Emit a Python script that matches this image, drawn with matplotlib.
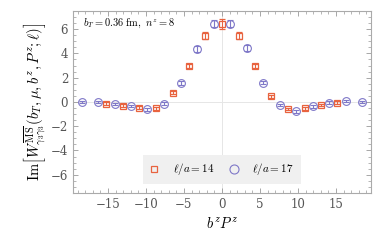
import numpy as np
import matplotlib
matplotlib.use('Agg')
import matplotlib.pyplot as plt
from matplotlib.ticker import MultipleLocator
from matplotlib.lines import Line2D

plt.rcParams['font.family'] = 'serif'
plt.rcParams['font.serif'] = ['DejaVu Serif']
plt.rcParams['mathtext.fontset'] = 'cm'

# l/a = 14 (squares)
x14 = [-15.2, -13.0, -10.9, -8.7, -6.5, -4.3, -2.2, 0.0, 2.2, 4.3, 6.5, 8.7, 10.9, 13.0, 15.2]
y14 = [-0.14, -0.30, -0.46, -0.52, 0.77, 2.95, 5.45, 6.45, 5.45, 2.95, 0.47, -0.58, -0.52, -0.26, -0.06]
e14 = [0.10, 0.10, 0.10, 0.12, 0.12, 0.18, 0.30, 0.40, 0.30, 0.18, 0.14, 0.12, 0.12, 0.10, 0.10]

# l/a = 17 (circles)
x17 = [-18.4, -16.3, -14.1, -12.0, -9.8, -7.6, -5.4, -3.3, -1.1, 1.1, 3.3, 5.4, 7.6, 9.8, 12.0, 14.1, 16.3, 18.4]
y17 = [-0.02, -0.04, -0.17, -0.34, -0.62, -0.15, 1.57, 4.38, 6.45, 6.45, 4.45, 1.60, -0.25, -0.77, -0.36, -0.05, 0.06, -0.02]
e17 = [0.08, 0.08, 0.10, 0.10, 0.12, 0.12, 0.15, 0.25, 0.30, 0.30, 0.25, 0.15, 0.12, 0.12, 0.10, 0.10, 0.08, 0.08]

c14 = '#E8633F'
c17 = '#7F78C8'

fig = plt.figure(figsize=(3.82, 2.43), dpi=100)
ax = fig.add_axes([0.191, 0.206, 0.78, 0.749])

ax.axhline(0, color='#e6e6e6', lw=0.7, zorder=0)
ax.axvline(0, color='#e6e6e6', lw=0.7, zorder=0)

ax.errorbar(x14, y14, yerr=e14, fmt='s', ms=4.3, mfc='none', mec=c14, mew=0.9,
            ecolor=c14, elinewidth=0.8, capsize=2.0, capthick=0.8)
ax.errorbar(x17, y17, yerr=e17, fmt='o', ms=5.6, mfc='none', mec=c17, mew=0.8,
            ecolor=c17, elinewidth=0.8, capsize=2.0, capthick=0.8)

ax.set_xlim(-19.6, 19.6)
ax.set_ylim(-7.5, 7.5)
ax.xaxis.set_major_locator(MultipleLocator(5))
ax.xaxis.set_minor_locator(MultipleLocator(1))
ax.yaxis.set_major_locator(MultipleLocator(2))
ax.yaxis.set_minor_locator(MultipleLocator(0.5))
ax.tick_params(which='both', direction='in', top=True, right=True, color='#999999',
               labelcolor='#555555', labelsize=8.5)
ax.tick_params(which='major', length=3.5, width=0.6)
ax.tick_params(which='minor', length=2, width=0.5)
ax.set_xticks([-15, -10, -5, 0, 5, 10, 15])
ax.set_yticks([-6, -4, -2, 0, 2, 4, 6])
for s in ax.spines.values():
    s.set_color('#aaaaaa')
    s.set_linewidth(0.8)

ax.text(0.035, 0.93, r'$b_T = 0.36\ \mathrm{fm},\ n^z = 8$', transform=ax.transAxes,
        fontsize=7.5, va='center', ha='left')

ax.set_xlabel(r'$b^z P^z$', fontsize=10.5, labelpad=4)
ax.set_ylabel(r'$\mathrm{Im}\left[W^{\overline{\rm MS}}_{\gamma_3\gamma_3}(b_T, \mu, b^z, P^z; \ell)\right]$',
              fontsize=10.5, labelpad=2)

handles = [Line2D([], [], ls='none', marker='s', ms=4.3, mfc='none', mec=c14, mew=0.9),
           Line2D([], [], ls='none', marker='o', ms=6.5, mfc='none', mec=c17, mew=0.8)]
leg = ax.legend(handles, [r'$\ell/a = 14$', r'$\ell/a = 17$'],
                loc='lower center', bbox_to_anchor=(0.5, 0.03), ncol=2, fontsize=8,
                frameon=True, fancybox=False, handlelength=0.8, handletextpad=1.3,
                columnspacing=1.3, borderpad=0.6, borderaxespad=0.3)
leg.get_frame().set_facecolor('#f0f0f0')
leg.get_frame().set_edgecolor('none')
leg.get_frame().set_alpha(1)

fig.savefig('out.png', dpi=100)
